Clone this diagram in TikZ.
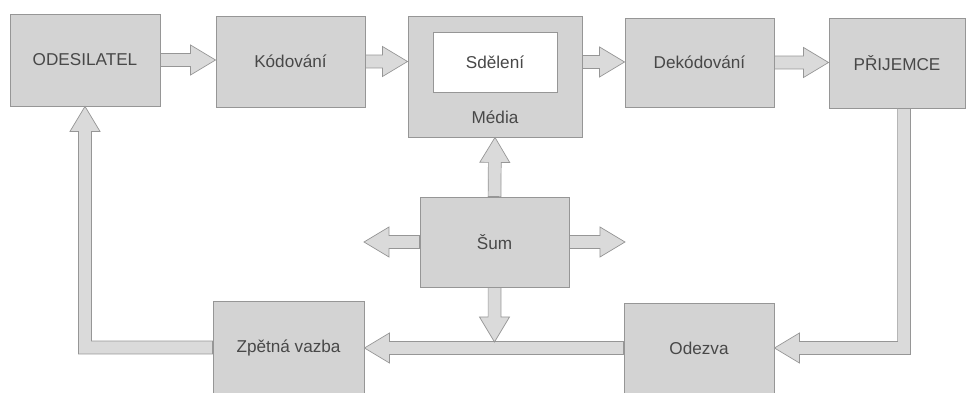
\documentclass[tikz,border=0pt]{standalone}
\usepackage{fontspec}
\setmainfont{Liberation Sans}
\usepackage{tikz}
\usetikzlibrary{calc}

\definecolor{boxgray}{RGB}{211,211,211}
\definecolor{edgegray}{RGB}{150,150,150}
\definecolor{textgray}{RGB}{72,72,72}

\tikzset{
	box/.style={shape=rectangle, draw=edgegray, fill=boxgray, line width=0.6pt,
		minimum width=3.75cm, minimum height=2.3cm, text=textgray,
		font=\fontsize{12.2}{14}\selectfont},
	fatbody/.style={draw=edgegray, fill=boxgray!85, line width=0.5pt},
	fat/.style={fatbody, to path={
		($(\tikztostart)!0.16cm!90:(\tikztotarget)$) --
		($(\tikztotarget)!0.625cm!(\tikztostart)!0.16cm!-90:(\tikztostart)$) --
		($(\tikztotarget)!0.625cm!(\tikztostart)!0.375cm!-90:(\tikztostart)$) --
		(\tikztotarget) --
		($(\tikztotarget)!0.625cm!(\tikztostart)!0.375cm!90:(\tikztostart)$) --
		($(\tikztotarget)!0.625cm!(\tikztostart)!0.16cm!90:(\tikztostart)$) --
		($(\tikztostart)!0.16cm!-90:(\tikztotarget)$) -- cycle}}
}

\begin{document}
\begin{tikzpicture}[x=0.025cm, y=-0.025cm]
	
	\useasboundingbox (0,0) rectangle (969,393);
	
	\node[box] (odes) at (85, 60)      {ODESILATEL};
	\node[box, minimum width=3.725cm, minimum height=2.275cm] (kod) at (290.5, 61.5) {Kódování};
	\node[box, minimum width=4.35cm, minimum height=3.025cm] (media) at (495, 76.5) {};
	\node[box, fill=white, minimum width=3.1cm, minimum height=1.5cm] (sdel) at (495, 62) {Sdělení};
	\node[text=textgray, font=\fontsize{12.2}{14}\selectfont] (medtxt) at (495, 117) {Média};
	\node[box, minimum width=3.725cm, minimum height=2.225cm] (dek) at (699.5, 62.5) {Dekódování};
	\node[box, minimum width=3.4cm, minimum height=2.25cm] (prij) at (897, 63) {PŘIJEMCE};
	\node[box, minimum width=3.725cm, minimum height=2.25cm] (sum) at (494.5, 242) {Šum};
	\node[box, minimum width=3.775cm, minimum height=2.325cm] (zpet) at (288.5, 347.5) {Zpětná vazba};
	\node[box, minimum width=3.75cm, minimum height=2.25cm] (odez) at (699, 348) {Odezva};
	
	\coordinate (noisel) at (364, 242);
	\coordinate (noiser) at (625, 242);
	\coordinate (hit) at ($(sum.south |- odez.west)+(0,-6)$);
	
	\draw[fat] (odes.east) to (odes.east -| kod.west);
	\draw[fat] (kod.east) to (kod.east -| media.west);
	\draw[fat] (media.east |- sdel.east) to (sdel.east -| dek.west);
	\draw[fat] (dek.east) to (dek.east -| prij.west);
	\draw[fat] (odez.west) to (odez.west -| zpet.east);
	\draw[fat] (sum.north) to (media.south);
	\draw[fat] (sum.south) to (hit);
	\draw[fat] (sum.west) to (noisel);
	\draw[fat] (sum.east) to (noiser);
	
	\draw[fatbody] let \p1=($(prij.south)+(7,0)$), \p2=(odez.east) in
		({\x1-0.16cm},\y1) -- ({\x1-0.16cm},{\y2+0.16cm}) -- ({\x2+0.625cm},{\y2+0.16cm})
		-- ({\x2+0.625cm},{\y2+0.375cm}) -- (\x2,\y2) -- ({\x2+0.625cm},{\y2-0.375cm})
		-- ({\x2+0.625cm},{\y2-0.16cm}) -- ({\x1+0.16cm},{\y2-0.16cm}) -- ({\x1+0.16cm},\y1) -- cycle;
	\draw[fatbody] let \p1=(zpet.west), \p2=(odes.south) in
		(\x1,{\y1+0.16cm}) -- ({\x2+0.16cm},{\y1+0.16cm}) -- ({\x2+0.16cm},{\y2-0.625cm})
		-- ({\x2+0.375cm},{\y2-0.625cm}) -- (\x2,\y2) -- ({\x2-0.375cm},{\y2-0.625cm})
		-- ({\x2-0.16cm},{\y2-0.625cm}) -- ({\x2-0.16cm},{\y1-0.16cm}) -- (\x1,{\y1-0.16cm}) -- cycle;
	
\end{tikzpicture}
\end{document}
